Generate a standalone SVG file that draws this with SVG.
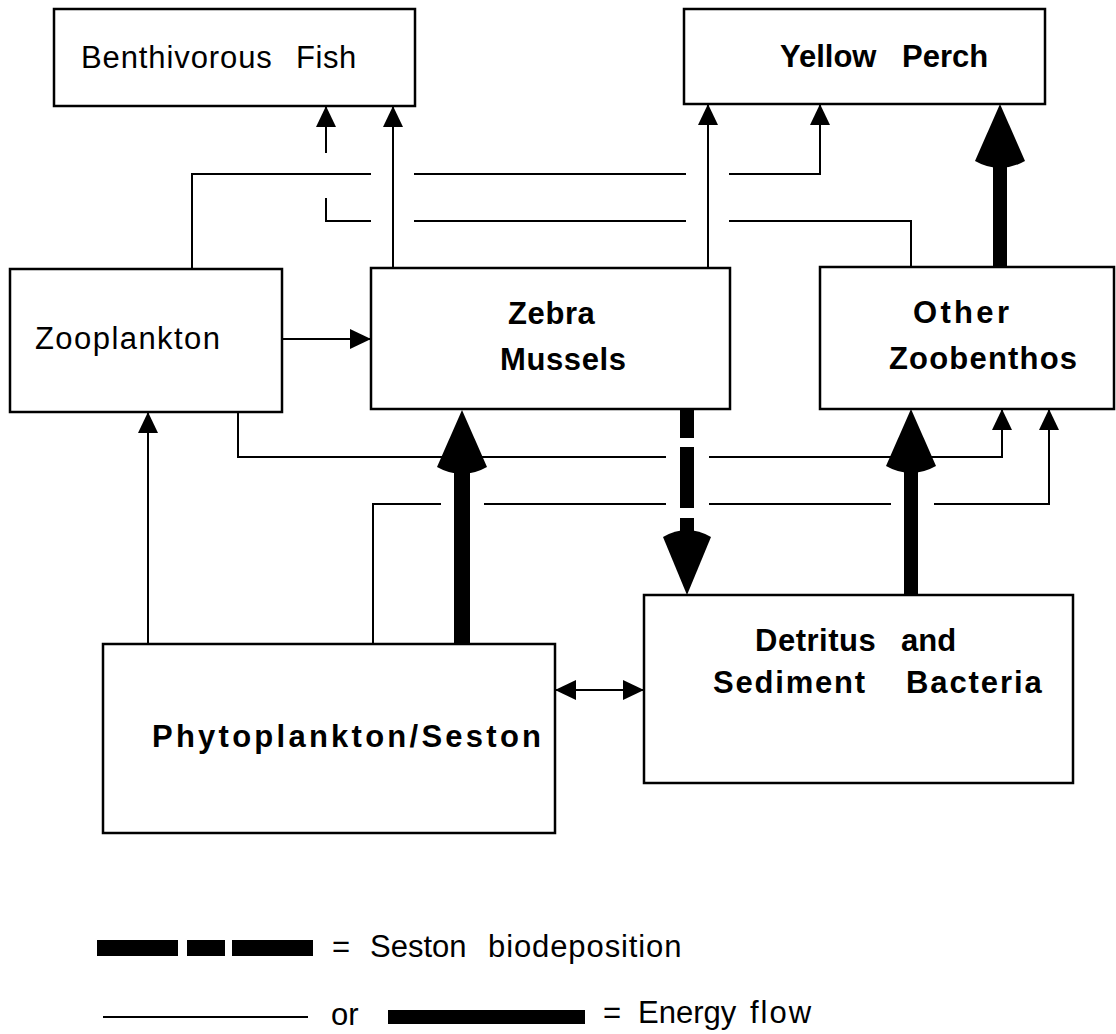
<svg xmlns="http://www.w3.org/2000/svg" width="1116" height="1034" viewBox="0 0 1116 1034">
  <style>
    .box { fill: #fff; stroke: #000; stroke-width: 2.5; }
    .ln { fill: none; stroke: #000; stroke-width: 2; }
    .thick { fill: #000; stroke: none; }
    text { font-family: "Liberation Sans", Arial, Helvetica, sans-serif; font-size: 31px; fill: #000; }
    .b { font-weight: bold; }
  </style>
  <defs>
    <marker id="ah" viewBox="0 0 21 20" refX="21" refY="10" markerWidth="21" markerHeight="20" markerUnits="userSpaceOnUse" orient="auto-start-reverse">
      <path d="M0,0 L21,10 L0,20 Z" fill="#000"/>
    </marker>
  </defs>
  <rect width="1116" height="1034" fill="#fff"/>

  <g id="connectors">
    <!-- Zebra Mussels -> Benthivorous Fish -->
    <path class="ln" d="M393,268 V106" marker-end="url(#ah)"/>
    <!-- Other Zoobenthos -> Benthivorous Fish -->
    <path class="ln" d="M911,267 V221 H729"/>
    <path class="ln" d="M686,221 H414"/>
    <path class="ln" d="M371,221 H326 V198"/>
    <path class="ln" d="M326,153 V106" marker-end="url(#ah)"/>
    <!-- Zooplankton -> Yellow Perch -->
    <path class="ln" d="M192,269 V174 H371"/>
    <path class="ln" d="M414,174 H686"/>
    <path class="ln" d="M729,174 H820 V104" marker-end="url(#ah)"/>
    <!-- Zebra Mussels -> Yellow Perch -->
    <path class="ln" d="M708,268 V104" marker-end="url(#ah)"/>
    <!-- Zooplankton -> Zebra Mussels -->
    <path class="ln" d="M282,339 H371" marker-end="url(#ah)"/>
    <!-- Phytoplankton -> Zooplankton -->
    <path class="ln" d="M148,644 V412" marker-end="url(#ah)"/>
    <!-- Zooplankton -> Other Zoobenthos -->
    <path class="ln" d="M238,412 V457 H666"/>
    <path class="ln" d="M709,457 H1002 V409" marker-end="url(#ah)"/>
    <!-- Phytoplankton -> Other Zoobenthos -->
    <path class="ln" d="M373,644 V504 H441"/>
    <path class="ln" d="M484,504 H666"/>
    <path class="ln" d="M709,504 H891"/>
    <path class="ln" d="M934,504 H1049 V409" marker-end="url(#ah)"/>
    <!-- Phytoplankton <-> Detritus -->
    <path class="ln" d="M555,690 H644" marker-start="url(#ah)" marker-end="url(#ah)"/>
    <!-- Other Zoobenthos -> Yellow Perch (thick) -->
    <rect class="thick" x="993" y="150" width="14" height="123"/>
    <path class="thick" d="M1000,104 L1025,161 Q1000,175 975,161 Z"/>
    <!-- Phytoplankton -> Zebra Mussels (thick) -->
    <rect class="thick" x="454" y="455" width="16" height="194"/>
    <path class="thick" d="M462,410 L487,467 Q462,481 437,467 Z"/>
    <!-- Detritus -> Other Zoobenthos (thick) -->
    <rect class="thick" x="904" y="455" width="14" height="147"/>
    <path class="thick" d="M911,409 L936,466 Q911,480 886,466 Z"/>
    <!-- Zebra Mussels -> Detritus (seston biodeposition, dashed thick) -->
    <rect class="thick" x="680" y="400" width="14" height="38"/>
    <rect class="thick" x="680" y="447" width="14" height="61"/>
    <rect class="thick" x="680" y="518" width="14" height="16"/>
    <path class="thick" d="M687,595 L711,537 Q687,523 663,537 Z"/>
  </g>

  <g id="benthivorous-fish">
    <rect class="box" x="54" y="9" width="361" height="97"/>
    <text y="68"><tspan x="81" letter-spacing="0.9">Benthivorous</tspan><tspan x="296" letter-spacing="0.6">Fish</tspan></text>
  </g>
  <g id="yellow-perch">
    <rect class="box" x="684" y="9" width="361" height="95"/>
    <text class="b" y="67"><tspan x="780">Yellow</tspan><tspan x="902">Perch</tspan></text>
  </g>
  <g id="zooplankton">
    <rect class="box" x="10" y="269" width="272" height="143"/>
    <text x="35" y="349" textLength="185" lengthAdjust="spacing">Zooplankton</text>
  </g>
  <g id="zebra-mussels">
    <rect class="box" x="371" y="268" width="359" height="141"/>
    <text class="b"><tspan x="508" y="324" letter-spacing="0.6">Zebra</tspan><tspan x="500" y="370" letter-spacing="0.6">Mussels</tspan></text>
  </g>
  <g id="other-zoobenthos">
    <rect class="box" x="820" y="267" width="294" height="142"/>
    <text class="b" x="913" y="323" textLength="96" lengthAdjust="spacing">Other</text>
    <text class="b" x="889" y="369" textLength="188" lengthAdjust="spacing">Zoobenthos</text>
  </g>
  <g id="phytoplankton-seston">
    <rect class="box" x="103" y="644" width="452" height="189"/>
    <text class="b" x="152" y="747" textLength="389" lengthAdjust="spacing">Phytoplankton/Seston</text>
  </g>
  <g id="detritus-sediment-bacteria">
    <rect class="box" x="644" y="595" width="429" height="188"/>
    <text class="b"><tspan x="755" y="651" letter-spacing="0.5">Detritus</tspan><tspan x="901" y="651">and</tspan><tspan x="713" y="693" letter-spacing="1.8">Sediment</tspan><tspan x="906" y="693" letter-spacing="1.9">Bacteria</tspan></text>
  </g>

  <g id="legend">
    <rect class="thick" x="97" y="940" width="81" height="16"/>
    <rect class="thick" x="187" y="940" width="38" height="16"/>
    <rect class="thick" x="232" y="940" width="81" height="16"/>
    <text y="957"><tspan x="332">=</tspan><tspan x="370">Seston</tspan><tspan x="488" letter-spacing="0.9">biodeposition</tspan></text>
    <path class="ln" d="M103,1017 H308"/>
    <text x="331" y="1025">or</text>
    <rect class="thick" x="388" y="1010" width="197" height="14"/>
    <text y="1023"><tspan x="603">=</tspan><tspan x="638">Energy</tspan><tspan x="750" letter-spacing="2">flow</tspan></text>
  </g>
</svg>
